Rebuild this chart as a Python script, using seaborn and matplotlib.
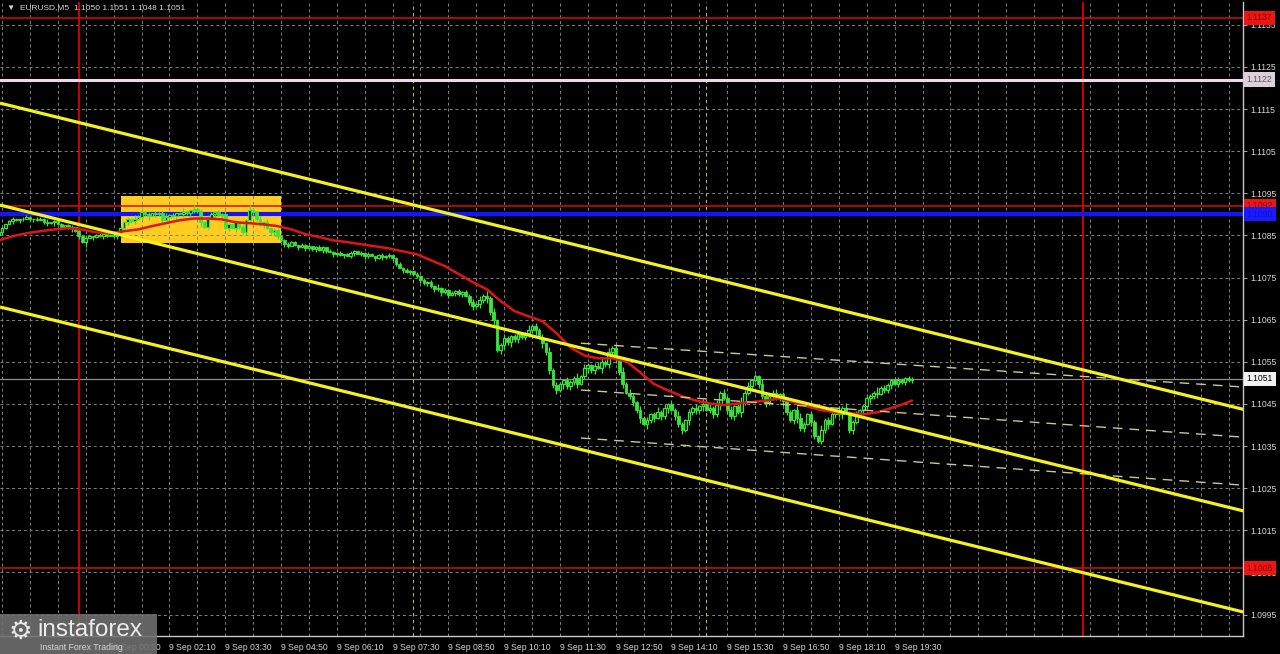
"""EURUSD M5 terminal screenshot recreated with seaborn/matplotlib."""

import matplotlib

matplotlib.use("Agg")
import matplotlib.pyplot as plt
import numpy as np
import pandas as pd
import seaborn as sns
from matplotlib.patches import Rectangle
from matplotlib.transforms import blended_transform_factory

# ---- data -------------------------------------------------------------
# bar closes, in pipettes above 1.10000 (e.g. 858 -> 1.10858), one bar per 5 min
closes = [
    858, 867, 876, 883, 888, 886, 890, 888, 893, 888,
    890, 886, 888, 881, 879, 881, 883, 876, 871, 874,
    867, 869, 860, 848, 834, 843, 848, 846, 850, 848,
    853, 848, 850, 848, 853, 867, 881, 888, 883, 890,
    893, 905, 900, 895, 902, 900, 902, 886, 893, 898,
    895, 902, 900, 905, 902, 910, 912, 907, 881, 871,
    890, 900, 905, 898, 900, 867, 876, 867, 881, 871,
    857, 886, 910, 905, 890, 876, 881, 867, 857, 862,
    848, 838, 829, 824, 834, 827, 822, 827, 819, 824,
    817, 822, 815, 822, 812, 810, 805, 807, 803, 805,
    800, 807, 812, 805, 807, 800, 805, 800, 796, 803,
    798, 800, 803, 796, 781, 772, 767, 763, 765, 758,
    753, 744, 736, 739, 729, 722, 725, 715, 720, 708,
    713, 717, 710, 715, 706, 691, 682, 686, 696, 706,
    701, 668, 649, 577, 589, 606, 596, 611, 604, 615,
    608, 618, 625, 634, 625, 606, 594, 573, 530, 494,
    482, 497, 506, 492, 501, 511, 497, 516, 535, 542,
    530, 540, 535, 549, 544, 573, 582, 558, 525, 497,
    477, 468, 454, 435, 416, 402, 411, 425, 416, 430,
    421, 440, 449, 435, 421, 402, 387, 411, 430, 440,
    435, 444, 449, 435, 440, 425, 447, 477, 463, 435,
    421, 444, 430, 454, 477, 492, 506, 516, 497, 468,
    454, 468, 477, 463, 473, 458, 430, 411, 435, 416,
    392, 402, 425, 406, 373, 363, 387, 411, 402, 425,
    435, 425, 440, 430, 387, 406, 425, 435, 444, 463,
    468, 477, 473, 487, 482, 494, 506, 497, 506, 501,
    511, 506, 510,
]
first_open = 850
first_bar_minute = -115  # minutes from 9 Sep 00:00

# wick lengths, one digit per bar, in units of 3 pipettes
wick_up = (
    "1201210121" "0121301210" "1202131012" "10121"
    "21213" "2412021231" "2013203121" "3212131021" "2142121312" "21"
    "1211021201" "2102112012" "1021210121" "2012121021" "2121312121" "212"
    "2313242312" "3212321423" "2314232132" "2413212342" "3231423213" "2312423132"
    "4213231423" "2413231242" "3121423231" "2321342132" "1423213241" "2312321423"
    "21232121"
)
wick_dn = (
    "1210212101" "2101213021" "1312140211" "21012"
    "31212" "1213021312" "1302132141" "2131412132" "1214213123" "21"
    "2101212012" "1210211201" "2012102121" "1210212012" "1212131212" "121"
    "2313242413" "3242312324" "1423231423" "2312423142" "3242312324" "1423132413"
    "2314232412" "3241323142" "2313242312" "4213423132" "2324132412" "3123242312"
    "23121212"
)

# red moving average, read every 4th bar (pipettes above 1.10000)
ma_bars = list(range(0, 261, 4)) + [262]
ma_values = [
    838, 848, 855, 860, 864, 867, 864, 857, 855, 860, 864, 872, 879, 886,
    890, 890, 888, 881, 879, 876, 872, 864, 853, 846, 838, 834, 829, 824,
    819, 812, 805, 791, 777, 758, 739, 722, 694, 670, 658, 646, 618, 584,
    565, 558, 558, 551, 525, 497, 482, 468, 458, 451, 447, 451, 454, 458,
    463, 454, 444, 435, 430, 428, 425, 430, 440, 451, 458,
]

# yellow channel (two points each: minute, price)
channel_minutes = [-113, 1670]
channel_top = [1.11164, 1.10437]
channel_mid = [1.10922, 1.10196]
channel_low = [1.10680, 1.09956]

# dashed deviation channel
dev_minutes = [720, 1670]
dev_top = [1.10594, 1.10490]
dev_mid = [1.10483, 1.10371]
dev_low = [1.10369, 1.10257]

# yellow rectangle
box_minutes = [60, 290]
box_prices = [1.10832, 1.10943]

# horizontal levels
level_red = [1.11367, 1.1092, 1.1006]
level_pink = 1.1122
level_blue = 1.1090
last_price = 1.1051

day_breaks = [0, 1440]
session_marks = [480, 900]

tick_minutes = [50, 130, 210, 290, 370, 450, 530, 610, 690, 770, 850, 930,
                1010, 1090, 1170]
tick_labels = ["9 Sep 00:50", "9 Sep 02:10", "9 Sep 03:30",
               "9 Sep 04:50", "9 Sep 06:10", "9 Sep 07:30", "9 Sep 08:50",
               "9 Sep 10:10", "9 Sep 11:30", "9 Sep 12:50", "9 Sep 14:10",
               "9 Sep 15:30", "9 Sep 16:50", "9 Sep 18:10", "9 Sep 19:30"]
price_ticks = [1.0995, 1.1005, 1.1015, 1.1025, 1.1035, 1.1045, 1.1055, 1.1065,
               1.1075, 1.1085, 1.1095, 1.1105, 1.1115, 1.1125, 1.1135]

# ---- build frame ------------------------------------------------------
to_price = lambda v: 1.1 + np.asarray(v) * 1e-5
n = len(closes)
bars = pd.DataFrame({
    "minute": first_bar_minute + 5 * np.arange(n),
    "close": closes,
    "open": [first_open] + closes[:-1],
    "wu": [3 * int(c) for c in wick_up],
    "wd": [3 * int(c) for c in wick_dn],
})
bars["high"] = bars[["open", "close"]].max(axis=1) + bars["wu"]
bars["low"] = bars[["open", "close"]].min(axis=1) - bars["wd"]

ma = pd.DataFrame({
    "minute": first_bar_minute + 5 * np.array(ma_bars),
    "price": to_price(ma_values),
})

# ---- style ------------------------------------------------------------
sns.set_theme(style="dark", rc={
    "axes.facecolor": "black",
    "figure.facecolor": "black",
    "axes.edgecolor": "#bdbdbd",
})
plt.rcParams["font.family"] = ["Liberation Sans", "DejaVu Sans"]

GREEN = "#3ae43a"
GRID = "#808080"
TXT = "#d6d6d6"
FS = 6.2

fig = plt.figure(figsize=(12.8, 6.54), dpi=100)
ax = fig.add_axes([0, 18 / 654, 1243 / 1280, 634 / 654])
ax.set_xlim(-113, 1669.6)
ax.set_ylim(1.09899, 1.11404)

# grid (drawn over the rectangle, under the prices)
for m in np.arange(-110, 1670, 40):
    ax.axvline(m, color=GRID, lw=0.7, ls=(0, (3, 3)), zorder=1.2)
for p in price_ticks:
    ax.axhline(p, color=GRID, lw=0.7, ls=(0, (3, 3)), zorder=1.2)

ax.add_patch(Rectangle((box_minutes[0], box_prices[0]),
                       box_minutes[1] - box_minutes[0],
                       box_prices[1] - box_prices[0],
                       facecolor="#ffcc1f", edgecolor="none", zorder=1))

for m in day_breaks:
    ax.axvline(m, color="#e00000", lw=1.3, zorder=2)
for m in session_marks:
    ax.axvline(m, color="#b8b860", lw=0.8, ls=(0, (3, 3)), zorder=1.3)

for p in level_red:
    ax.axhline(p, color="#d01010", lw=1.1, zorder=2)
ax.axhline(level_pink, color="#eadbe6", lw=2.2, zorder=2)
ax.axhline(level_blue, color="#1414ff", lw=3, zorder=2.1)
ax.axhline(last_price, color="#8c8c8c", lw=0.9, zorder=1.5)

# candles
up = bars["close"] >= bars["open"]
ax.vlines(bars["minute"], to_price(bars["low"]), to_price(bars["high"]),
          color=GREEN, lw=0.9, zorder=3)
body = (bars["close"] - bars["open"]).abs().clip(lower=2)
bottom = bars[["open", "close"]].min(axis=1)
ax.bar(bars["minute"][up], body[up] * 1e-5, bottom=to_price(bottom[up]),
       width=3.8, facecolor="#0a2a0a", edgecolor=GREEN, lw=0.8, zorder=3.2)
ax.bar(bars["minute"][~up], body[~up] * 1e-5, bottom=to_price(bottom[~up]),
       width=3.8, facecolor=GREEN, edgecolor=GREEN, lw=0.6, zorder=3.2)

# moving average
sns.lineplot(data=ma, x="minute", y="price", color="#e01414", lw=1.8,
             ax=ax, zorder=4)

# channels
for ys in (channel_top, channel_mid, channel_low):
    ax.plot(channel_minutes, ys, color="#f2f21e", lw=2.3, zorder=4.5,
            solid_capstyle="butt")
for ys in (dev_top, dev_mid, dev_low):
    ax.plot(dev_minutes, ys, color="#c9c98c", lw=1.0, ls=(0, (7, 5)), zorder=4.4)

# axes / ticks
ax.yaxis.tick_right()
ax.set_yticks(price_ticks)
ax.set_yticklabels([f"{p:.4f}" for p in price_ticks])
ax.set_xticks(tick_minutes)
ax.set_xticklabels(tick_labels, ha="left")
ax.tick_params(axis="y", colors=TXT, labelsize=FS, length=3, width=0.6, pad=2)
ax.tick_params(axis="x", colors=TXT, labelsize=FS, length=3, width=0.6, pad=2)
ax.tick_params(axis="both", which="both", color="#bdbdbd")
ax.set_xlabel("")
ax.set_ylabel("")
ax.grid(False)
for side in ("left", "top"):
    ax.spines[side].set_visible(False)
for side in ("right", "bottom"):
    ax.spines[side].set_color("#c8c8c8")
    ax.spines[side].set_linewidth(1.0)

# price tags on the right scale
tag = blended_transform_factory(ax.transAxes, ax.transData)
tags = [
    (level_red[0], "1.1137", "#ee1515", "#8a0000"),
    (level_pink, "1.1122", "#dccfd8", "#555555"),
    (level_red[1], "1.1092", "#ee1515", "#8a0000"),
    (level_blue, "1.1090", "#1a1aff", "#1010d0"),
    (last_price, "1.1051", "#f2f2f2", "#000000"),
    (level_red[2], "1.1006", "#ee1515", "#8a0000"),
]
for p, s, bg, fg in tags:
    ax.text(1.003, p, s, transform=tag, ha="left", va="center", fontsize=FS,
            color=fg, clip_on=False, zorder=10,
            bbox=dict(boxstyle="square,pad=0.3", facecolor=bg, edgecolor="none"))

# header
fig.text(7 / 1280, 1 - 8 / 654, "\u25bc  EURUSD,M5  1.1050 1.1051 1.1048 1.1051",
         fontsize=6.0, color=TXT, va="center", ha="left")

# watermark
fig.patches.append(Rectangle((0, 0), 157 / 1280, 40 / 654, transform=fig.transFigure,
                             facecolor="#6f6f6f", edgecolor="none", alpha=0.9,
                             zorder=20))
fig.text(20 / 1280, 1 - 632 / 654, "\u2699", fontsize=19, color="#e6e6e6",
         ha="center", va="center", zorder=21, family="DejaVu Sans")
fig.text(37 / 1280, 1 - 630 / 654, "instaforex", fontsize=17.5, color="#ececec",
         ha="left", va="center", zorder=21)
fig.text(40 / 1280, 1 - 647 / 654, "Instant Forex Trading", fontsize=6.3,
         color="#d8d8d8", ha="left", va="center", zorder=21)

fig.savefig("out.png", dpi=100, facecolor="black")
